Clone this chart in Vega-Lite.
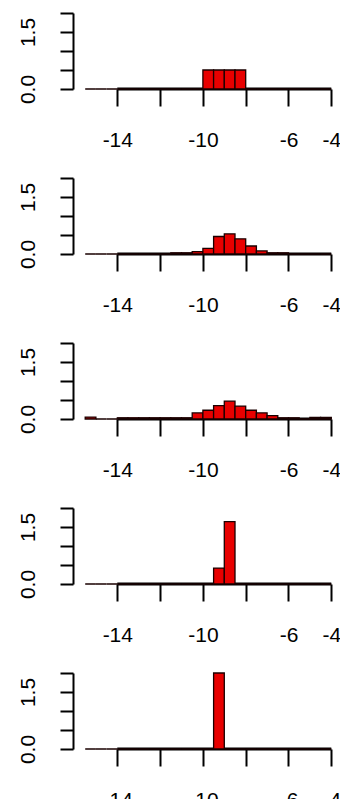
{
  "$schema": "https://vega.github.io/schema/vega-lite/v6.json",
  "padding": {"left": 17, "top": 12, "right": 0, "bottom": 0},
  "data": {"values": [
    {"p":1,"k":"axis","x0":-14,"x1":-4,"d":0},
    {"p":2,"k":"axis","x0":-14,"x1":-4,"d":0},
    {"p":3,"k":"axis","x0":-14,"x1":-4,"d":0},
    {"p":4,"k":"axis","x0":-14,"x1":-4,"d":0},
    {"p":5,"k":"axis","x0":-14,"x1":-4,"d":0},

    {"p":1,"k":"bin","x0":-15.5,"x1":-15,"d":0},
    {"p":1,"k":"bin","x0":-15,"x1":-14.5,"d":0},
    {"p":1,"k":"bin","x0":-14.5,"x1":-14,"d":0},
    {"p":1,"k":"bin","x0":-14,"x1":-13.5,"d":0},
    {"p":1,"k":"bin","x0":-13.5,"x1":-13,"d":0},
    {"p":1,"k":"bin","x0":-13,"x1":-12.5,"d":0},
    {"p":1,"k":"bin","x0":-12.5,"x1":-12,"d":0},
    {"p":1,"k":"bin","x0":-12,"x1":-11.5,"d":0},
    {"p":1,"k":"bin","x0":-11.5,"x1":-11,"d":0},
    {"p":1,"k":"bin","x0":-11,"x1":-10.5,"d":0},
    {"p":1,"k":"bin","x0":-10.5,"x1":-10,"d":0},
    {"p":1,"k":"bin","x0":-10,"x1":-9.5,"d":0.5},
    {"p":1,"k":"bin","x0":-9.5,"x1":-9,"d":0.5},
    {"p":1,"k":"bin","x0":-9,"x1":-8.5,"d":0.5},
    {"p":1,"k":"bin","x0":-8.5,"x1":-8,"d":0.5},
    {"p":1,"k":"bin","x0":-8,"x1":-7.5,"d":0},
    {"p":1,"k":"bin","x0":-7.5,"x1":-7,"d":0},
    {"p":1,"k":"bin","x0":-7,"x1":-6.5,"d":0},
    {"p":1,"k":"bin","x0":-6.5,"x1":-6,"d":0},
    {"p":1,"k":"bin","x0":-6,"x1":-5.5,"d":0},
    {"p":1,"k":"bin","x0":-5.5,"x1":-5,"d":0},
    {"p":1,"k":"bin","x0":-5,"x1":-4.5,"d":0},
    {"p":1,"k":"bin","x0":-4.5,"x1":-4,"d":0},

    {"p":2,"k":"bin","x0":-15.5,"x1":-15,"d":0},
    {"p":2,"k":"bin","x0":-15,"x1":-14.5,"d":0},
    {"p":2,"k":"bin","x0":-14.5,"x1":-14,"d":0},
    {"p":2,"k":"bin","x0":-14,"x1":-13.5,"d":0},
    {"p":2,"k":"bin","x0":-13.5,"x1":-13,"d":0},
    {"p":2,"k":"bin","x0":-13,"x1":-12.5,"d":0},
    {"p":2,"k":"bin","x0":-12.5,"x1":-12,"d":0},
    {"p":2,"k":"bin","x0":-12,"x1":-11.5,"d":0},
    {"p":2,"k":"bin","x0":-11.5,"x1":-11,"d":0.03},
    {"p":2,"k":"bin","x0":-11,"x1":-10.5,"d":0.03},
    {"p":2,"k":"bin","x0":-10.5,"x1":-10,"d":0.06},
    {"p":2,"k":"bin","x0":-10,"x1":-9.5,"d":0.15},
    {"p":2,"k":"bin","x0":-9.5,"x1":-9,"d":0.46},
    {"p":2,"k":"bin","x0":-9,"x1":-8.5,"d":0.53},
    {"p":2,"k":"bin","x0":-8.5,"x1":-8,"d":0.4},
    {"p":2,"k":"bin","x0":-8,"x1":-7.5,"d":0.21},
    {"p":2,"k":"bin","x0":-7.5,"x1":-7,"d":0.08},
    {"p":2,"k":"bin","x0":-7,"x1":-6.5,"d":0.03},
    {"p":2,"k":"bin","x0":-6.5,"x1":-6,"d":0.03},
    {"p":2,"k":"bin","x0":-6,"x1":-5.5,"d":0},
    {"p":2,"k":"bin","x0":-5.5,"x1":-5,"d":0},
    {"p":2,"k":"bin","x0":-5,"x1":-4.5,"d":0},
    {"p":2,"k":"bin","x0":-4.5,"x1":-4,"d":0},

    {"p":3,"k":"bin","x0":-15.5,"x1":-15,"d":0.05},
    {"p":3,"k":"bin","x0":-15,"x1":-14.5,"d":0},
    {"p":3,"k":"bin","x0":-14.5,"x1":-14,"d":0},
    {"p":3,"k":"bin","x0":-14,"x1":-13.5,"d":0.03},
    {"p":3,"k":"bin","x0":-13.5,"x1":-13,"d":0.03},
    {"p":3,"k":"bin","x0":-13,"x1":-12.5,"d":0.03},
    {"p":3,"k":"bin","x0":-12.5,"x1":-12,"d":0.03},
    {"p":3,"k":"bin","x0":-12,"x1":-11.5,"d":0.03},
    {"p":3,"k":"bin","x0":-11.5,"x1":-11,"d":0.03},
    {"p":3,"k":"bin","x0":-11,"x1":-10.5,"d":0.03},
    {"p":3,"k":"bin","x0":-10.5,"x1":-10,"d":0.16},
    {"p":3,"k":"bin","x0":-10,"x1":-9.5,"d":0.23},
    {"p":3,"k":"bin","x0":-9.5,"x1":-9,"d":0.35},
    {"p":3,"k":"bin","x0":-9,"x1":-8.5,"d":0.47},
    {"p":3,"k":"bin","x0":-8.5,"x1":-8,"d":0.34},
    {"p":3,"k":"bin","x0":-8,"x1":-7.5,"d":0.23},
    {"p":3,"k":"bin","x0":-7.5,"x1":-7,"d":0.16},
    {"p":3,"k":"bin","x0":-7,"x1":-6.5,"d":0.09},
    {"p":3,"k":"bin","x0":-6.5,"x1":-6,"d":0.03},
    {"p":3,"k":"bin","x0":-6,"x1":-5.5,"d":0.03},
    {"p":3,"k":"bin","x0":-5.5,"x1":-5,"d":0},
    {"p":3,"k":"bin","x0":-5,"x1":-4.5,"d":0.04},
    {"p":3,"k":"bin","x0":-4.5,"x1":-4,"d":0.04},

    {"p":4,"k":"bin","x0":-15.5,"x1":-15,"d":0},
    {"p":4,"k":"bin","x0":-15,"x1":-14.5,"d":0},
    {"p":4,"k":"bin","x0":-14.5,"x1":-14,"d":0},
    {"p":4,"k":"bin","x0":-14,"x1":-13.5,"d":0},
    {"p":4,"k":"bin","x0":-13.5,"x1":-13,"d":0},
    {"p":4,"k":"bin","x0":-13,"x1":-12.5,"d":0},
    {"p":4,"k":"bin","x0":-12.5,"x1":-12,"d":0},
    {"p":4,"k":"bin","x0":-12,"x1":-11.5,"d":0},
    {"p":4,"k":"bin","x0":-11.5,"x1":-11,"d":0},
    {"p":4,"k":"bin","x0":-11,"x1":-10.5,"d":0},
    {"p":4,"k":"bin","x0":-10.5,"x1":-10,"d":0},
    {"p":4,"k":"bin","x0":-10,"x1":-9.5,"d":0},
    {"p":4,"k":"bin","x0":-9.5,"x1":-9,"d":0.42},
    {"p":4,"k":"bin","x0":-9,"x1":-8.5,"d":1.64},
    {"p":4,"k":"bin","x0":-8.5,"x1":-8,"d":0},
    {"p":4,"k":"bin","x0":-8,"x1":-7.5,"d":0},
    {"p":4,"k":"bin","x0":-7.5,"x1":-7,"d":0},
    {"p":4,"k":"bin","x0":-7,"x1":-6.5,"d":0},
    {"p":4,"k":"bin","x0":-6.5,"x1":-6,"d":0},
    {"p":4,"k":"bin","x0":-6,"x1":-5.5,"d":0},
    {"p":4,"k":"bin","x0":-5.5,"x1":-5,"d":0},
    {"p":4,"k":"bin","x0":-5,"x1":-4.5,"d":0},
    {"p":4,"k":"bin","x0":-4.5,"x1":-4,"d":0},

    {"p":5,"k":"bin","x0":-15.5,"x1":-15,"d":0},
    {"p":5,"k":"bin","x0":-15,"x1":-14.5,"d":0},
    {"p":5,"k":"bin","x0":-14.5,"x1":-14,"d":0},
    {"p":5,"k":"bin","x0":-14,"x1":-13.5,"d":0},
    {"p":5,"k":"bin","x0":-13.5,"x1":-13,"d":0},
    {"p":5,"k":"bin","x0":-13,"x1":-12.5,"d":0},
    {"p":5,"k":"bin","x0":-12.5,"x1":-12,"d":0},
    {"p":5,"k":"bin","x0":-12,"x1":-11.5,"d":0},
    {"p":5,"k":"bin","x0":-11.5,"x1":-11,"d":0},
    {"p":5,"k":"bin","x0":-11,"x1":-10.5,"d":0},
    {"p":5,"k":"bin","x0":-10.5,"x1":-10,"d":0},
    {"p":5,"k":"bin","x0":-10,"x1":-9.5,"d":0},
    {"p":5,"k":"bin","x0":-9.5,"x1":-9,"d":2.0},
    {"p":5,"k":"bin","x0":-9,"x1":-8.5,"d":0},
    {"p":5,"k":"bin","x0":-8.5,"x1":-8,"d":0},
    {"p":5,"k":"bin","x0":-8,"x1":-7.5,"d":0},
    {"p":5,"k":"bin","x0":-7.5,"x1":-7,"d":0},
    {"p":5,"k":"bin","x0":-7,"x1":-6.5,"d":0},
    {"p":5,"k":"bin","x0":-6.5,"x1":-6,"d":0},
    {"p":5,"k":"bin","x0":-6,"x1":-5.5,"d":0},
    {"p":5,"k":"bin","x0":-5.5,"x1":-5,"d":0},
    {"p":5,"k":"bin","x0":-5,"x1":-4.5,"d":0},
    {"p":5,"k":"bin","x0":-4.5,"x1":-4,"d":0}
  ]},
  "facet": {"row": {"field": "p", "type": "ordinal", "header": {"title": null, "labels": false, "labelPadding": 0, "titlePadding": 0}}},
  "spacing": {"row": 89},
  "bounds": "flush",
  "resolve": {"axis": {"x": "independent"}},
  "spec": {
    "width": 269,
    "height": 76,
    "encoding": {
      "x": {"field": "x0", "type": "quantitative",
        "scale": {"domain": [-16.07, -3.5], "nice": false, "zero": false},
        "axis": {"values": [-14, -12, -10, -8, -6, -4],
          "labelExpr": "(datum.value == -12 || datum.value == -8) ? '' : '-' + abs(datum.value)",
          "domain": false, "tickSize": 17, "tickWidth": 2, "labelPadding": 23,
          "labelAngle": 0, "labelBaseline": "top", "labelAlign": "center",
          "labelOverlap": false, "labelFlush": false, "title": null}},
      "x2": {"field": "x1"},
      "y": {"field": "d", "type": "quantitative",
        "scale": {"domain": [0, 2], "nice": false, "zero": false},
        "axis": {"values": [0, 0.5, 1, 1.5, 2], "tickCount": 5,
          "labelExpr": "datum.value == 0 ? '0.0' : (datum.value == 1.5 ? '1.5' : '')",
          "labelAngle": -90, "labelAlign": "center", "labelBaseline": "bottom",
          "tickSize": 13, "tickWidth": 2, "domainWidth": 2, "labelPadding": 22,
          "labelOverlap": false, "labelFlush": false, "labelBound": false, "title": null}}
    },
    "layer": [
      {
        "transform": [{"filter": "datum.k == 'axis'"}],
        "mark": {"type": "rule", "strokeWidth": 3, "color": "#000"}
      },
      {
        "transform": [{"filter": "datum.k == 'bin'"}],
        "mark": {"type": "rect", "fill": "#e80000", "stroke": "#1a0000", "strokeWidth": 1.3},
        "encoding": {
          "y2": {"datum": 0}
        }
      }
    ]
  },
  "config": {
    "view": {"stroke": null},
    "font": "Liberation Sans",
    "axis": {"grid": false, "domainColor": "#000", "tickColor": "#000", "labelColor": "#000",
      "labelFont": "Liberation Sans", "labelFontSize": 21}
  }
}
